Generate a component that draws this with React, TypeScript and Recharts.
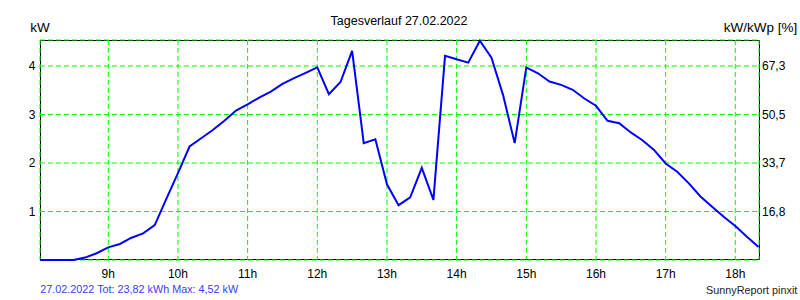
import React from "react";
import { LineChart, Line, XAxis, YAxis, CartesianGrid } from "recharts";

const times = [
  "8:00", "8:10", "8:20", "8:30", "8:40", "8:50",
  "9:00", "9:10", "9:20", "9:30", "9:40", "9:50",
  "10:00", "10:10", "10:20", "10:30", "10:40", "10:50",
  "11:00", "11:10", "11:20", "11:30", "11:40", "11:50",
  "12:00", "12:10", "12:20", "12:30", "12:40", "12:50",
  "13:00", "13:10", "13:20", "13:30", "13:40", "13:50",
  "14:00", "14:10", "14:20", "14:30", "14:40", "14:50",
  "15:00", "15:10", "15:20", "15:30", "15:40", "15:50",
  "16:00", "16:10", "16:20", "16:30", "16:40", "16:50",
  "17:00", "17:10", "17:20", "17:30", "17:40", "17:50",
  "18:00", "18:10", "18:20",
];

const powerKw = [
  0, 0, 0, 0, 0.05, 0.14,
  0.26, 0.33, 0.46, 0.55, 0.72, 1.26,
  1.79, 2.34, 2.51, 2.68, 2.87, 3.08,
  3.21, 3.35, 3.47, 3.63, 3.75, 3.86,
  3.97, 3.42, 3.67, 4.31, 2.41, 2.49,
  1.56, 1.13, 1.29, 1.9, 1.24, 4.21,
  4.14, 4.07, 4.52, 4.17, 3.4, 2.41,
  3.97, 3.85, 3.68, 3.61, 3.51, 3.33,
  3.18, 2.87, 2.82, 2.63, 2.47, 2.27,
  1.99, 1.82, 1.58, 1.31, 1.1, 0.89,
  0.7, 0.48, 0.27,
];

const hourTicks = [9, 10, 11, 12, 13, 14, 15, 16, 17, 18];
const kwTicks = [1, 2, 3, 4];
const pctLabels = ["16,8", "33,7", "50,5", "67,3"];

const titleText = "Tagesverlauf 27.02.2022";
const leftAxisTitle = "kW";
const rightAxisTitle = "kW/kWp [%]";
const footerLeft = "27.02.2022 Tot: 23,82 kWh Max: 4,52 kW";
const footerRight = "SunnyReport pinxit";

const data = times.map((t, i) => {
  const [h, m] = t.split(":").map(Number);
  return { t: h + m / 60, kw: powerKw[i] };
});

const FONT = "'Liberation Sans', Arial, sans-serif";

export default function App() {
  return (
    <div
      style={{
        position: "fixed",
        left: 0,
        top: 0,
        width: 800,
        height: 300,
        overflow: "hidden",
        background: "#fff",
      }}
    >
      <div
        style={{
          position: "absolute",
          left: 40,
          top: 40,
          width: 720,
          height: 220,
          boxSizing: "border-box",
          border: "1px solid #000",
        }}
      />
      <div style={{ position: "absolute", left: 8, top: 8 }}>
        <LineChart
          width={792}
          height={284}
          data={data}
          margin={{ top: 32, right: 0, bottom: 0, left: 0 }}
        >
          <CartesianGrid
            yAxisId="left"
            stroke="#00ff00"
            strokeDasharray="5 3"
          />
          <XAxis
            dataKey="t"
            type="number"
            domain={[8.02, 18.34]}
            allowDataOverflow
            ticks={hourTicks}
            interval={0}
            tickFormatter={(v) => `${v}h`}
            axisLine={false}
            tickLine={false}
            tickSize={6}
            tickMargin={3}
            height={32}
            tick={{ fill: "#000", fontSize: 12, fontFamily: FONT }}
          />
          <YAxis
            yAxisId="left"
            domain={[0, 4.536]}
            ticks={kwTicks}
            interval={0}
            width={32}
            axisLine={false}
            tickLine={false}
            tickSize={3}
            tickMargin={1.5}
            tick={{ fill: "#000", fontSize: 12, fontFamily: FONT }}
          />
          <YAxis
            yAxisId="right"
            orientation="right"
            domain={[0, 4.536]}
            ticks={kwTicks}
            interval={0}
            width={41}
            axisLine={false}
            tickLine={false}
            tickSize={1}
            tickMargin={2}
            tickFormatter={(v) => pctLabels[kwTicks.indexOf(v)] ?? ""}
            tick={{ fill: "#000", fontSize: 12, fontFamily: FONT }}
          />
          <Line
            yAxisId="right"
            dataKey="kw"
            stroke="none"
            dot={false}
            activeDot={false}
            isAnimationActive={false}
          />
          <Line
            yAxisId="left"
            type="linear"
            dataKey="kw"
            stroke="#0000ff"
            strokeWidth={2}
            dot={false}
            activeDot={false}
            isAnimationActive={false}
          />
        </LineChart>
      </div>
      <svg
        width={800}
        height={300}
        style={{ position: "absolute", left: 0, top: 0, pointerEvents: "none" }}
      >
        <text x={399} y={25} textAnchor="middle" fontSize={12.5} fontFamily={FONT} fill="#000">
          {titleText}
        </text>
        <text x={30.3} y={32} textAnchor="start" fontSize={13.5} fontFamily={FONT} fill="#000">
          {leftAxisTitle}
        </text>
        <text x={797.3} y={32} textAnchor="end" fontSize={13.5} fontFamily={FONT} fill="#000">
          {rightAxisTitle}
        </text>
        <text x={40.3} y={293.3} textAnchor="start" fontSize={10.8} fontFamily={FONT} fill="#3a3aff">
          {footerLeft}
        </text>
        <text x={797.3} y={294} textAnchor="end" fontSize={10.8} fontFamily={FONT} fill="#222">
          {footerRight}
        </text>
      </svg>
    </div>
  );
}
